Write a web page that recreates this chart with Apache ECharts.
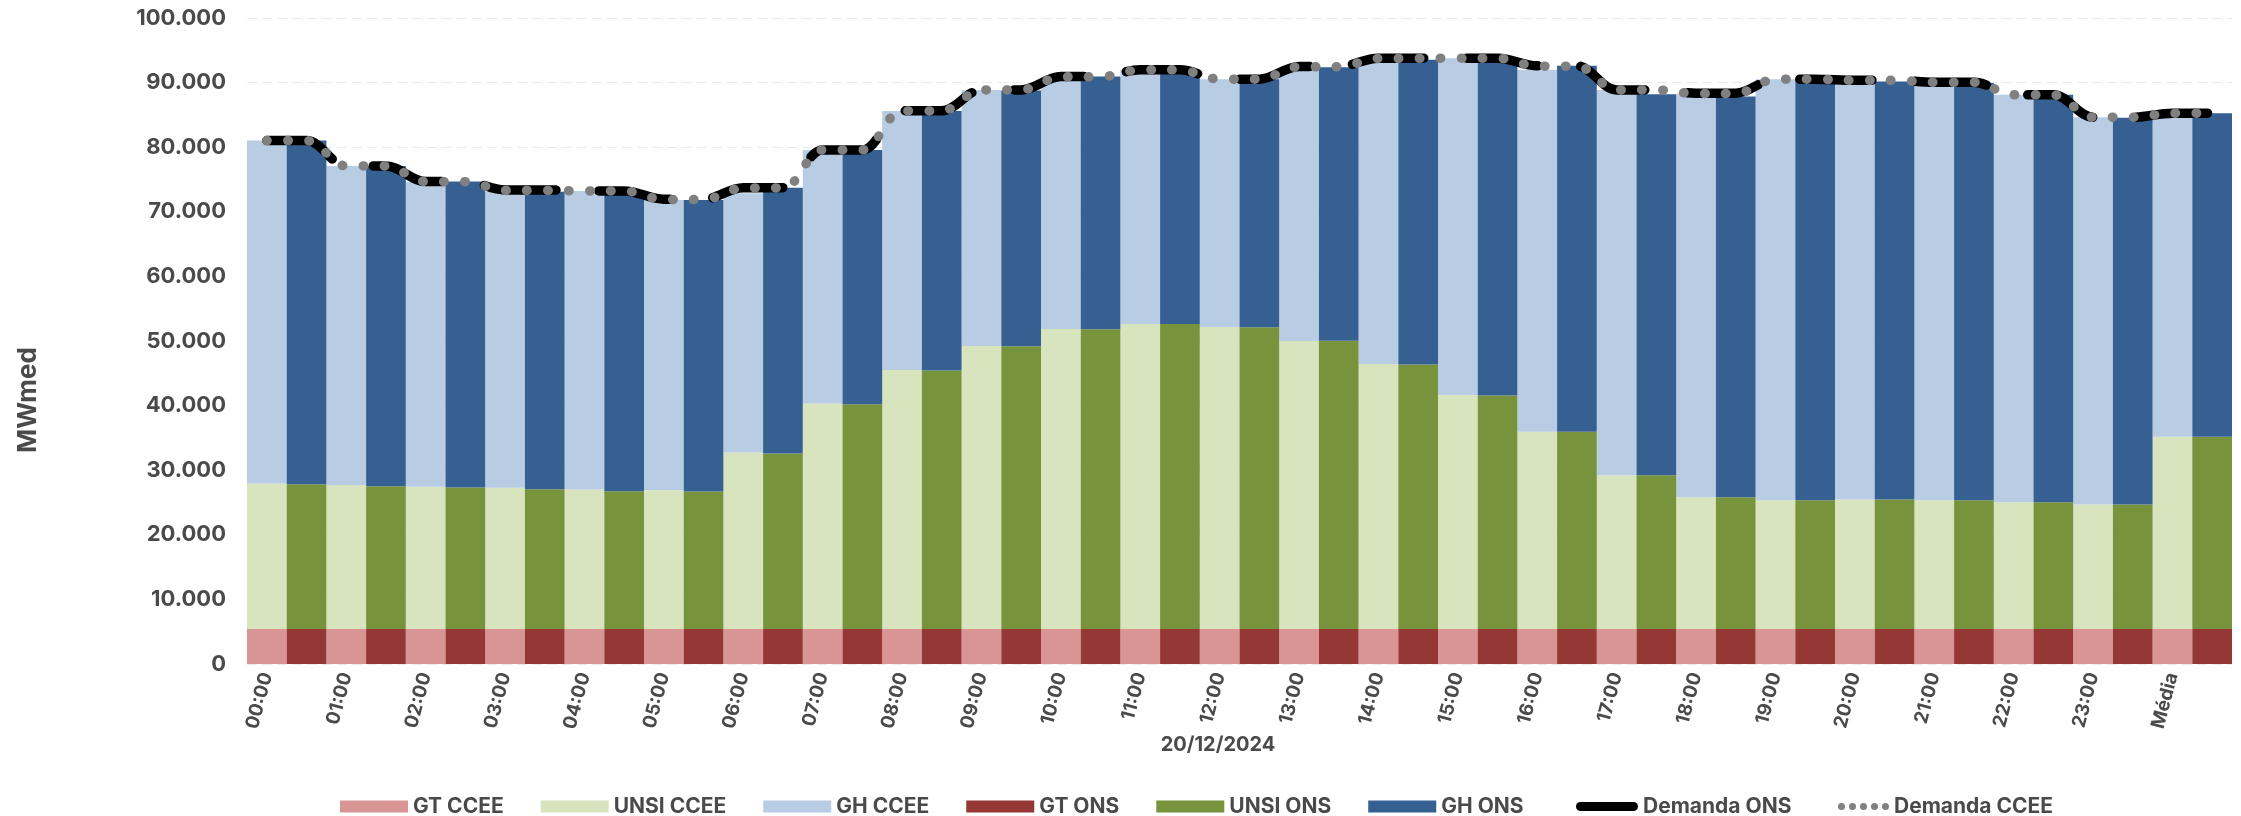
<!DOCTYPE html>
<html>
<head>
<meta charset="utf-8">
<script src="https://cdn.jsdelivr.net/npm/echarts@6/dist/echarts.min.js"></script>
<style>
  html, body { margin: 0; padding: 0; background: #ffffff; }
  #chart { width: 2241px; height: 816px; }
</style>
</head>
<body>
<div id="chart"></div>
<script>
// Horários do dia 20/12/2024 e a média diária
const categorias = ['00:00', '01:00', '02:00', '03:00', '04:00', '05:00', '06:00', '07:00',
  '08:00', '09:00', '10:00', '11:00', '12:00', '13:00', '14:00', '15:00', '16:00', '17:00',
  '18:00', '19:00', '20:00', '21:00', '22:00', '23:00', 'Média'];

// Geração (MWmed) — barras CCEE
const gtCCEE = [5400, 5400, 5400, 5400, 5400, 5400, 5400, 5400, 5400, 5400, 5400, 5400, 5400,
  5400, 5400, 5400, 5400, 5400, 5400, 5400, 5400, 5400, 5400, 5400, 5400];
const unsiCCEE = [22550, 22290, 22020, 21870, 21610, 21500, 27350, 34940, 40100, 43820, 46450,
  47230, 46760, 44590, 41030, 36230, 30550, 23830, 20420, 19960, 20060, 19960, 19650, 19290, 29780];
const ghCCEE = [53070, 49410, 47250, 45850, 46220, 44930, 40120, 39240, 40120, 39650, 38840,
  39340, 38370, 42250, 47250, 52150, 56020, 59640, 62440, 65170, 64700, 64650, 63050, 59950, 50080];

// Geração (MWmed) — barras ONS
const gtONS = [5400, 5400, 5400, 5400, 5400, 5400, 5400, 5400, 5400, 5400, 5400, 5400, 5400,
  5400, 5400, 5400, 5400, 5400, 5400, 5400, 5400, 5400, 5400, 5400, 5400];
const unsiONS = [22440, 22130, 21920, 21660, 21350, 21300, 27190, 34790, 40050, 43770, 46400,
  47230, 46710, 44640, 40980, 36180, 30550, 23830, 20400, 19960, 20060, 19960, 19650, 19290, 29780];
const ghONS = [53180, 49570, 47360, 46060, 46220, 45130, 41150, 39390, 40170, 39600, 39140,
  39080, 38420, 42350, 47140, 52200, 56640, 58970, 62040, 65170, 64700, 64560, 63050, 59850, 50080];

// Demanda (MWmed)
const demandaONS = [81020, 77100, 74680, 73390, 73230, 71950, 73740, 79580, 85640, 88870, 90940,
  91970, 90530, 92490, 93780, 93780, 92590, 88870, 88360, 90530, 90370, 90060, 88100, 84640, 85260];
const demandaCCEE = [81020, 77100, 74670, 73300, 73230, 71900, 73700, 79580, 85620, 88870, 90900,
  91970, 90530, 92450, 93750, 93780, 92550, 88870, 88300, 90530, 90350, 90050, 88100, 84640, 85260];

// Escala do eixo Y
const yMin = 0, yMax = 100000, yStep = 10000;

const TXT = '#4a4a4a';
const FONT = 'Inter, "Noto Sans", sans-serif';

// As linhas de demanda passam pelo centro de cada uma das duas barras do horário
const pares = categorias.flatMap(c => [c, '']);
const dobra = arr => arr.flatMap(v => [v, v]);

const milhar = v => String(v).replace(/\B(?=(\d{3})+(?!\d))/g, '.');

const barra = (name, stack, color, data) => ({
  name, type: 'bar', stack, data,
  xAxisIndex: 0, yAxisIndex: 0,
  barGap: '0%', barCategoryGap: '0%',
  itemStyle: { color },
  emphasis: { disabled: true }
});

const pilula = 'path://M4.5,0 L57.5,0 A4.5,4.5 0 0 1 57.5,9 L4.5,9 A4.5,4.5 0 0 1 4.5,0 Z';
const pontos = 'path://' + [3.5, 14.5, 25.5, 36.5, 47.5].map(cx =>
  `M${cx - 3.5},3.5 A3.5,3.5 0 1 1 ${cx + 3.5},3.5 A3.5,3.5 0 1 1 ${cx - 3.5},3.5 Z`).join(' ');

const legendText = { color: TXT, fontFamily: FONT, fontWeight: 'bold', fontSize: 21 };

const option = {
  animation: false,
  backgroundColor: '#ffffff',
  grid: { left: 247, right: 9, top: 18, bottom: 152, containLabel: false, outerBoundsMode: 'none' },
  xAxis: [
    {
      type: 'category', data: categorias, position: 'bottom',
      axisLine: { show: false }, axisTick: { show: false }, axisLabel: { show: false },
      splitLine: { show: false }
    },
    {
      type: 'category', data: pares, position: 'bottom', boundaryGap: true,
      axisLine: { show: false }, axisTick: { show: false }, splitLine: { show: false },
      axisLabel: {
        show: true, interval: 1, rotate: 75, margin: 9,
        color: TXT, fontFamily: FONT, fontWeight: 'bold', fontSize: 19
      }
    }
  ],
  yAxis: {
    type: 'value', min: yMin, max: yMax, interval: yStep,
    axisLine: { show: false }, axisTick: { show: false },
    axisLabel: {
      formatter: milhar, margin: 21,
      color: TXT, fontFamily: FONT, fontWeight: 'bold', fontSize: 22
    },
    splitLine: { show: true, lineStyle: { color: '#e3ecee', width: 1, type: [10, 5] } }
  },
  legend: [
    {
      data: ['GT CCEE', 'UNSI CCEE', 'GH CCEE', 'GT ONS', 'UNSI ONS', 'GH ONS'],
      left: 335, top: 791, itemWidth: 68, itemHeight: 12, itemGap: 37,
      icon: 'rect', textStyle: legendText, selectedMode: false
    },
    {
      data: [{ name: 'Demanda ONS', icon: pilula, itemStyle: { color: '#000000' } }],
      left: 1571, top: 791, itemWidth: 62, itemHeight: 9,
      textStyle: legendText, selectedMode: false
    },
    {
      data: [{ name: 'Demanda CCEE', icon: pontos, itemStyle: { color: '#808080' } }],
      left: 1833, top: 791, itemWidth: 51, itemHeight: 7,
      textStyle: legendText, selectedMode: false
    }
  ],
  graphic: [
    {
      type: 'text', x: 28, y: 400, rotation: Math.PI / 2,
      style: { text: 'MWmed', fill: TXT, font: `bold 26px ${FONT}`, align: 'center', verticalAlign: 'middle' }
    },
    {
      type: 'text', x: 1218, y: 745,
      style: { text: '20/12/2024', fill: TXT, font: `bold 20px ${FONT}`, align: 'center', verticalAlign: 'middle' }
    }
  ],
  series: [
    barra('GT CCEE', 'ccee', '#d99594', gtCCEE),
    barra('UNSI CCEE', 'ccee', '#d8e4bd', unsiCCEE),
    barra('GH CCEE', 'ccee', '#b8cce4', ghCCEE),
    barra('GT ONS', 'ons', '#953735', gtONS),
    barra('UNSI ONS', 'ons', '#77933c', unsiONS),
    barra('GH ONS', 'ons', '#366092', ghONS),
    {
      name: 'Demanda ONS', type: 'line', xAxisIndex: 1, yAxisIndex: 0,
      data: dobra(demandaONS), smooth: 0.35, showSymbol: false, symbol: 'none',
      lineStyle: { color: '#000000', width: 9.5, type: [72, 43], cap: 'round', join: 'round' },
      itemStyle: { color: '#000000' }, emphasis: { disabled: true }, z: 3
    },
    {
      name: 'Demanda CCEE', type: 'line', xAxisIndex: 1, yAxisIndex: 0,
      data: dobra(demandaCCEE), smooth: 0.35, showSymbol: false, symbol: 'none',
      lineStyle: { color: '#808080', width: 9.5, type: [0.5, 20.5], cap: 'round', join: 'round' },
      itemStyle: { color: '#808080' }, emphasis: { disabled: true }, z: 4
    }
  ]
};

echarts.init(document.getElementById('chart'), null, { renderer: 'canvas' }).setOption(option);
</script>
</body>
</html>
